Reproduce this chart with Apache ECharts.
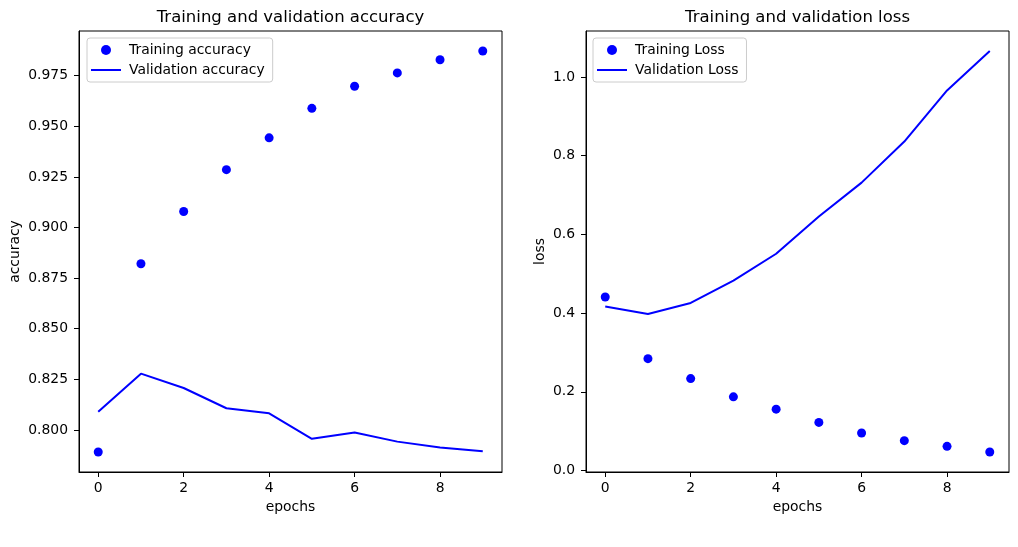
<!DOCTYPE html>
<html>
<head>
<meta charset="utf-8">
<script src="https://cdn.jsdelivr.net/npm/echarts@6/dist/echarts.min.js"></script>
<style>
  html, body { margin: 0; padding: 0; background: #fff; }
  #chart { width: 1018px; height: 547px; }
</style>
</head>
<body>
<div id="chart"></div>
<script>
const epochs = [0, 1, 2, 3, 4, 5, 6, 7, 8, 9];
const trainAcc = [0.7891, 0.8821, 0.9079, 0.9286, 0.9443, 0.9589, 0.9698, 0.9764, 0.9829, 0.9872];
const valAcc = [0.8090, 0.8278, 0.8207, 0.8107, 0.8082, 0.7956, 0.7987, 0.7942, 0.7913, 0.7894];
const trainLoss = [0.441, 0.2843, 0.2337, 0.1873, 0.156, 0.1224, 0.0954, 0.076, 0.0616, 0.0473];
const valLoss = [0.417, 0.398, 0.426, 0.4827, 0.551, 0.6456, 0.7316, 0.836, 0.966, 1.066];
const xTicks = [0, 2, 4, 6, 8];
const accTicks = [0.800, 0.825, 0.850, 0.875, 0.900, 0.925, 0.950, 0.975];
const lossTicks = [0.0, 0.2, 0.4, 0.6, 0.8, 1.0];

const FONT = 'DejaVu Sans';
const BLUE = '#0000ff';
const LINE_ICON = 'path://M0,0 H30 V2 H0 Z';

const pairs = (ys) => epochs.map((x, i) => [x, ys[i]]);

// matplotlib-style 5% margins around the data
function padRange(values) {
  const lo = Math.min(...values), hi = Math.max(...values);
  const m = (hi - lo) * 0.05;
  return [lo - m, hi + m];
}
const xr = padRange(epochs);
const accR = padRange(trainAcc.concat(valAcc));
const lossR = padRange(trainLoss.concat(valLoss));

function xAxisOf(gridIndex) {
  return {
    type: 'value', gridIndex, min: xr[0], max: xr[1],
    name: 'epochs', nameLocation: 'middle', nameGap: 27,
    nameTextStyle: { fontFamily: FONT, fontSize: 13.9, color: '#000' },
    axisLine: { show: true, onZero: false, lineStyle: { color: '#000', width: 1 } },
    axisTick: { show: true, length: 5, customValues: xTicks, lineStyle: { color: '#000', width: 1 } },
    axisLabel: { customValues: xTicks, margin: 9, fontFamily: FONT, fontSize: 13.9, color: '#000' },
    splitLine: { show: false }
  };
}

function yAxisOf(gridIndex, range, ticks, name, gap, digits) {
  return {
    type: 'value', gridIndex, min: range[0], max: range[1],
    name, nameLocation: 'middle', nameGap: gap,
    nameTextStyle: { fontFamily: FONT, fontSize: 13.9, color: '#000' },
    axisLine: { show: true, onZero: false, lineStyle: { color: '#000', width: 1 } },
    axisTick: { show: true, length: 5, customValues: ticks, lineStyle: { color: '#000', width: 1 } },
    axisLabel: {
      customValues: ticks, margin: 11, fontFamily: FONT, fontSize: 13.9, color: '#000',
      formatter: (v) => v.toFixed(digits)
    },
    splitLine: { show: false }
  };
}

function legendOf(left, names) {
  return {
    orient: 'vertical', left, top: 38,
    data: [
      { name: names[0], icon: 'circle' },
      { name: names[1], icon: LINE_ICON }
    ],
    itemWidth: 30, itemHeight: 10, itemGap: 6,
    padding: [5, 8, 5, 4],
    borderColor: '#cccccc', borderWidth: 1, borderRadius: 3,
    backgroundColor: 'rgba(255,255,255,0.8)',
    textStyle: { fontFamily: FONT, fontSize: 13.9, color: '#000', padding: [0, 0, 0, 3] }
  };
}

const chart = echarts.init(document.getElementById('chart'), null, { renderer: 'canvas' });

chart.setOption({
  animation: false,
  backgroundColor: '#ffffff',
  title: [
    { text: 'Training and validation accuracy', left: 290.5, top: 9, textAlign: 'center', padding: 0,
      textStyle: { fontFamily: FONT, fontSize: 16.5, fontWeight: 'normal', color: '#000' } },
    { text: 'Training and validation loss', left: 797.5, top: 9, textAlign: 'center', padding: 0,
      textStyle: { fontFamily: FONT, fontSize: 16.5, fontWeight: 'normal', color: '#000' } }
  ],
  legend: [
    legendOf(87, ['Training accuracy', 'Validation accuracy']),
    legendOf(593, ['Training Loss', 'Validation Loss'])
  ],
  grid: [
    { left: 79, top: 31, width: 423, height: 441, show: true, borderColor: '#000', borderWidth: 1, backgroundColor: 'transparent' },
    { left: 586, top: 31, width: 423, height: 441, show: true, borderColor: '#000', borderWidth: 1, backgroundColor: 'transparent' }
  ],
  xAxis: [xAxisOf(0), xAxisOf(1)],
  yAxis: [
    yAxisOf(0, accR, accTicks, 'accuracy', 57, 3),
    yAxisOf(1, lossR, lossTicks, 'loss', 39, 1)
  ],
  series: [
    { name: 'Training accuracy', type: 'scatter', xAxisIndex: 0, yAxisIndex: 0,
      data: pairs(trainAcc), symbol: 'circle', symbolSize: 9, itemStyle: { color: BLUE, opacity: 1 } },
    { name: 'Validation accuracy', type: 'line', xAxisIndex: 0, yAxisIndex: 0,
      data: pairs(valAcc), showSymbol: false, symbol: 'none', lineStyle: { color: BLUE, width: 2 }, itemStyle: { color: BLUE } },
    { name: 'Training Loss', type: 'scatter', xAxisIndex: 1, yAxisIndex: 1,
      data: pairs(trainLoss), symbol: 'circle', symbolSize: 9, itemStyle: { color: BLUE, opacity: 1 } },
    { name: 'Validation Loss', type: 'line', xAxisIndex: 1, yAxisIndex: 1,
      data: pairs(valLoss), showSymbol: false, symbol: 'none', lineStyle: { color: BLUE, width: 2 }, itemStyle: { color: BLUE } }
  ]
});
</script>
</body>
</html>
